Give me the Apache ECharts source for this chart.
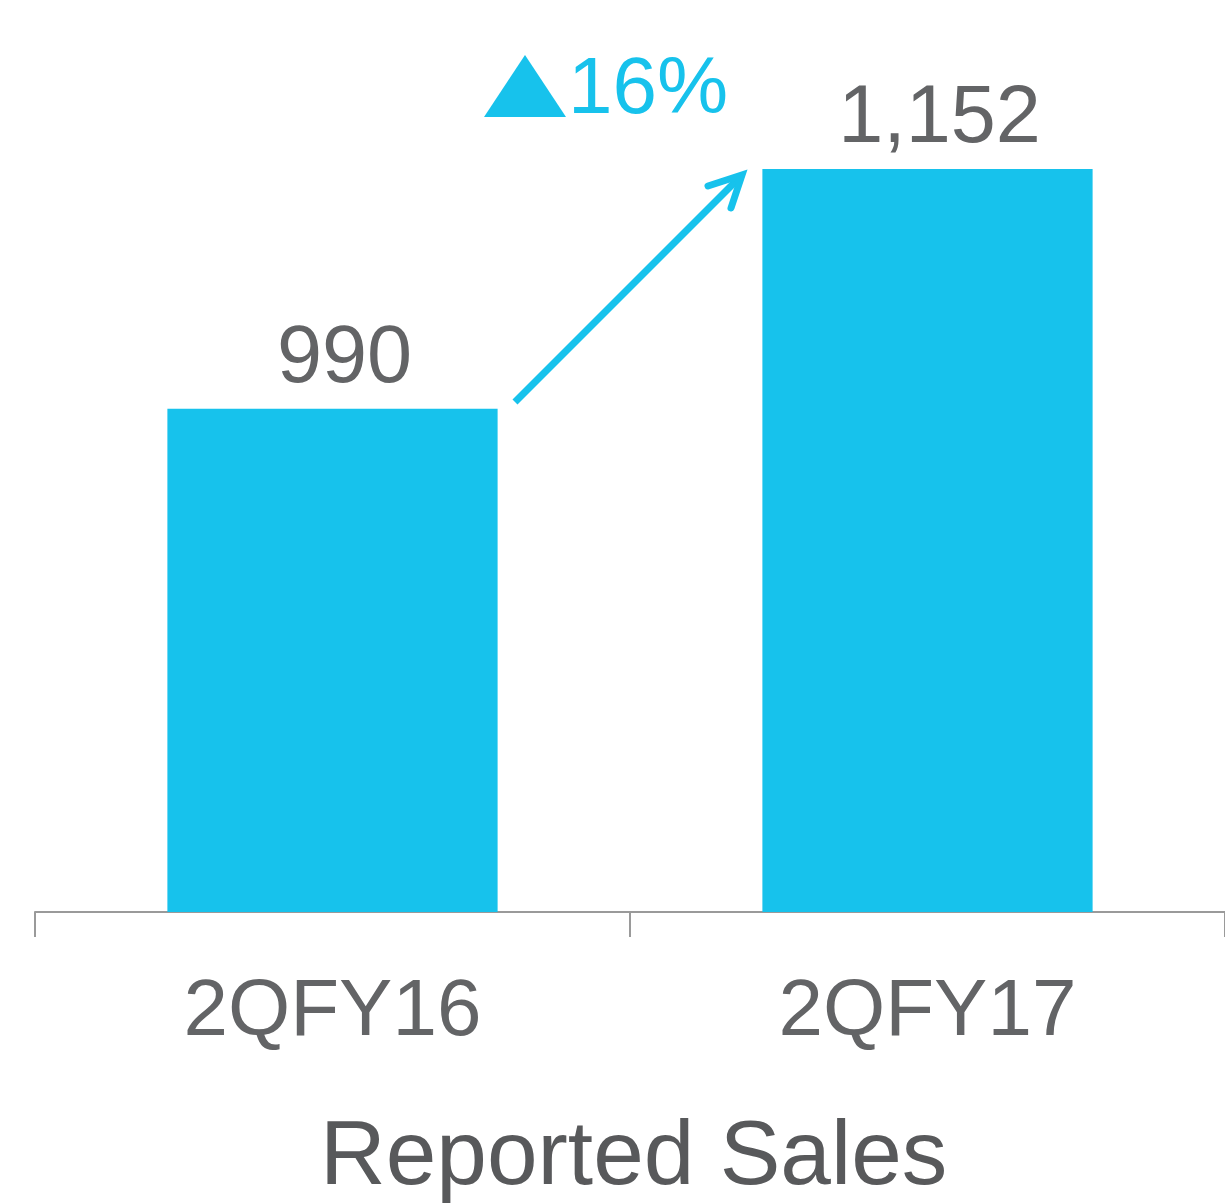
<!DOCTYPE html>
<html>
<head>
<meta charset="utf-8">
<script src="https://cdn.jsdelivr.net/npm/echarts@6/dist/echarts.min.js"></script>
<style>
  html, body { margin: 0; padding: 0; background: #fff; }
  #chart { width: 1225px; height: 1203px; }
</style>
</head>
<body>
<div id="chart"></div>
<script>
// data
const categories = ['2QFY16', '2QFY17']
const sales = [990, 1152]
const growthLabel = '16%'
const title = 'Reported Sales'

const barColor = '#17C2EC'
const textColor = '#636466'

const chart = echarts.init(document.getElementById('chart'))

const option = {
  animation: false,
  backgroundColor: '#fff',
  grid: {
    left: 35,
    right: -4,
    top: 98,
    bottom: 291
  },
  xAxis: {
    type: 'category',
    data: categories,
    axisLine: { lineStyle: { color: '#9a9a9a', width: 2 } },
    axisTick: { show: true, length: 25, lineStyle: { color: '#9a9a9a', width: 2 } },
    axisLabel: {
      color: textColor,
      fontFamily: 'Liberation Sans',
      fontSize: 80,
      margin: 61
    }
  },
  yAxis: {
    type: 'value',
    min: 650,
    max: 1200,
    show: false,
    splitLine: { show: false }
  },
  series: [
    {
      type: 'bar',
      data: sales,
      barWidth: '55.5%',
      itemStyle: { color: barColor },
      label: {
        show: true,
        position: 'top',
        distance: 9,
        offset: [12, 0],
        color: textColor,
        fontFamily: 'Liberation Sans',
        fontSize: 81,
        formatter: p => p.value.toLocaleString('en-US')
      }
    }
  ],
  graphic: [
    // growth arrow
    {
      type: 'line',
      shape: { x1: 515, y1: 402, x2: 740, y2: 177 },
      style: { stroke: barColor, lineWidth: 7 }
    },
    {
      type: 'polyline',
      shape: { points: [[708, 186], [742, 175], [731, 208]] },
      style: { stroke: barColor, lineWidth: 7, fill: null, lineCap: 'round', lineJoin: 'miter' }
    },
    // growth badge
    {
      type: 'polygon',
      shape: { points: [[525, 55], [566, 117], [484, 117]] },
      style: { fill: barColor }
    },
    {
      type: 'text',
      left: 568,
      top: 51,
      style: {
        text: growthLabel,
        fill: barColor,
        font: '80px "Liberation Sans"'
      }
    },
    // title
    {
      type: 'text',
      left: 320,
      top: 1113,
      style: {
        text: title,
        fill: '#58595B',
        font: '91px "Liberation Sans"'
      }
    }
  ]
}

chart.setOption(option)
window.addEventListener('resize', () => chart.resize())
</script>
</body>
</html>
